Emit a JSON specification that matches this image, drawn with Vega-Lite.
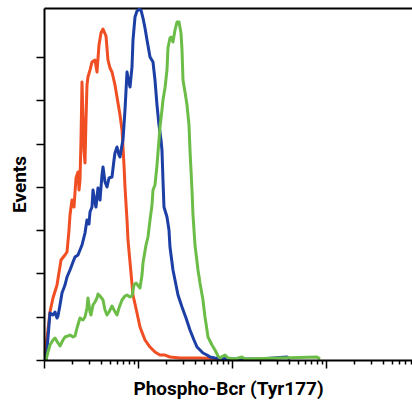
{
  "$schema": "https://vega.github.io/schema/vega-lite/v6.json",
  "autosize": "none",
  "width": 368,
  "height": 352,
  "padding": {"left": 44, "top": 8, "right": 0, "bottom": 49},
  "background": "white",
  "config": {"view": {"stroke": null}},
  "datasets": {
    "hist": [
      {"sample": "red", "intensity": 1.00, "events": 0.46},
      {"sample": "red", "intensity": 1.050, "events": 3.46},
      {"sample": "red", "intensity": 1.103, "events": 6.93},
      {"sample": "red", "intensity": 1.158, "events": 11.09},
      {"sample": "red", "intensity": 1.246, "events": 14.32},
      {"sample": "red", "intensity": 1.375, "events": 17.32},
      {"sample": "red", "intensity": 1.517, "events": 23.09},
      {"sample": "red", "intensity": 1.672, "events": 24.25},
      {"sample": "red", "intensity": 1.757, "events": 24.94},
      {"sample": "red", "intensity": 1.845, "events": 30.02},
      {"sample": "red", "intensity": 1.891, "events": 33.49},
      {"sample": "red", "intensity": 1.985, "events": 36.95},
      {"sample": "red", "intensity": 2.085, "events": 35.33},
      {"sample": "red", "intensity": 2.190, "events": 42.03},
      {"sample": "red", "intensity": 2.300, "events": 43.42},
      {"sample": "red", "intensity": 2.357, "events": 39.26},
      {"sample": "red", "intensity": 2.415, "events": 41.57},
      {"sample": "red", "intensity": 2.475, "events": 50.81},
      {"sample": "red", "intensity": 2.537, "events": 64.20},
      {"sample": "red", "intensity": 2.600, "events": 55.43},
      {"sample": "red", "intensity": 2.664, "events": 48.50},
      {"sample": "red", "intensity": 2.730, "events": 45.50},
      {"sample": "red", "intensity": 2.797, "events": 55.43},
      {"sample": "red", "intensity": 2.866, "events": 63.51},
      {"sample": "red", "intensity": 2.937, "events": 65.36},
      {"sample": "red", "intensity": 3.085, "events": 66.97},
      {"sample": "red", "intensity": 3.240, "events": 68.82},
      {"sample": "red", "intensity": 3.488, "events": 69.28},
      {"sample": "red", "intensity": 3.662, "events": 66.51},
      {"sample": "red", "intensity": 3.846, "events": 72.75},
      {"sample": "red", "intensity": 4.039, "events": 75.52},
      {"sample": "red", "intensity": 4.244, "events": 76.44},
      {"sample": "red", "intensity": 4.567, "events": 74.83},
      {"sample": "red", "intensity": 4.796, "events": 69.28},
      {"sample": "red", "intensity": 5.036, "events": 67.44},
      {"sample": "red", "intensity": 5.288, "events": 66.51},
      {"sample": "red", "intensity": 5.692, "events": 63.51},
      {"sample": "red", "intensity": 6.127, "events": 59.35},
      {"sample": "red", "intensity": 6.436, "events": 56.58},
      {"sample": "red", "intensity": 6.758, "events": 53.12},
      {"sample": "red", "intensity": 7.097, "events": 45.03},
      {"sample": "red", "intensity": 7.272, "events": 39.95},
      {"sample": "red", "intensity": 7.639, "events": 32.33},
      {"sample": "red", "intensity": 7.828, "events": 27.71},
      {"sample": "red", "intensity": 8.222, "events": 22.63},
      {"sample": "red", "intensity": 8.846, "events": 15.01},
      {"sample": "red", "intensity": 9.760, "events": 10.85},
      {"sample": "red", "intensity": 10.50, "events": 7.62},
      {"sample": "red", "intensity": 11.87, "events": 4.62},
      {"sample": "red", "intensity": 13.42, "events": 3.00},
      {"sample": "red", "intensity": 15.16, "events": 1.85},
      {"sample": "red", "intensity": 17.14, "events": 1.15},
      {"sample": "red", "intensity": 19.37, "events": 1.15},
      {"sample": "red", "intensity": 21.89, "events": 0.69},
      {"sample": "red", "intensity": 27.98, "events": 0.46},
      {"sample": "red", "intensity": 45.66, "events": 0.46},
      {"sample": "red", "intensity": 95.20, "events": 0.23},

      {"sample": "blue", "intensity": 1.050, "events": 0.0},
      {"sample": "blue", "intensity": 1.076, "events": 2.31},
      {"sample": "blue", "intensity": 1.130, "events": 8.08},
      {"sample": "blue", "intensity": 1.158, "events": 10.85},
      {"sample": "blue", "intensity": 1.246, "events": 10.39},
      {"sample": "blue", "intensity": 1.309, "events": 11.09},
      {"sample": "blue", "intensity": 1.375, "events": 9.70},
      {"sample": "blue", "intensity": 1.409, "events": 10.16},
      {"sample": "blue", "intensity": 1.480, "events": 12.70},
      {"sample": "blue", "intensity": 1.554, "events": 15.47},
      {"sample": "blue", "intensity": 1.672, "events": 17.32},
      {"sample": "blue", "intensity": 1.757, "events": 19.17},
      {"sample": "blue", "intensity": 1.891, "events": 20.79},
      {"sample": "blue", "intensity": 2.035, "events": 22.63},
      {"sample": "blue", "intensity": 2.137, "events": 23.79},
      {"sample": "blue", "intensity": 2.300, "events": 24.25},
      {"sample": "blue", "intensity": 2.415, "events": 25.40},
      {"sample": "blue", "intensity": 2.537, "events": 26.56},
      {"sample": "blue", "intensity": 2.730, "events": 29.33},
      {"sample": "blue", "intensity": 2.866, "events": 32.33},
      {"sample": "blue", "intensity": 3.010, "events": 31.41},
      {"sample": "blue", "intensity": 3.085, "events": 34.18},
      {"sample": "blue", "intensity": 3.240, "events": 35.33},
      {"sample": "blue", "intensity": 3.321, "events": 39.26},
      {"sample": "blue", "intensity": 3.488, "events": 36.26},
      {"sample": "blue", "intensity": 3.574, "events": 35.33},
      {"sample": "blue", "intensity": 3.752, "events": 39.72},
      {"sample": "blue", "intensity": 3.942, "events": 36.95},
      {"sample": "blue", "intensity": 4.140, "events": 42.73},
      {"sample": "blue", "intensity": 4.244, "events": 44.57},
      {"sample": "blue", "intensity": 4.457, "events": 41.11},
      {"sample": "blue", "intensity": 4.680, "events": 39.95},
      {"sample": "blue", "intensity": 4.914, "events": 42.03},
      {"sample": "blue", "intensity": 5.288, "events": 42.26},
      {"sample": "blue", "intensity": 5.556, "events": 46.19},
      {"sample": "blue", "intensity": 5.692, "events": 47.81},
      {"sample": "blue", "intensity": 5.979, "events": 49.19},
      {"sample": "blue", "intensity": 6.280, "events": 47.34},
      {"sample": "blue", "intensity": 6.436, "events": 46.88},
      {"sample": "blue", "intensity": 6.758, "events": 49.65},
      {"sample": "blue", "intensity": 6.925, "events": 50.81},
      {"sample": "blue", "intensity": 7.272, "events": 57.74},
      {"sample": "blue", "intensity": 7.639, "events": 66.51},
      {"sample": "blue", "intensity": 7.828, "events": 65.13},
      {"sample": "blue", "intensity": 8.222, "events": 63.05},
      {"sample": "blue", "intensity": 8.633, "events": 67.67},
      {"sample": "blue", "intensity": 8.846, "events": 73.90},
      {"sample": "blue", "intensity": 9.292, "events": 79.21},
      {"sample": "blue", "intensity": 9.760, "events": 80.60},
      {"sample": "blue", "intensity": 10.25, "events": 81.0},
      {"sample": "blue", "intensity": 10.77, "events": 80.8},
      {"sample": "blue", "intensity": 11.30, "events": 78.98},
      {"sample": "blue", "intensity": 11.87, "events": 76.67},
      {"sample": "blue", "intensity": 12.47, "events": 73.90},
      {"sample": "blue", "intensity": 13.42, "events": 69.98},
      {"sample": "blue", "intensity": 14.44, "events": 68.82},
      {"sample": "blue", "intensity": 15.16, "events": 64.67},
      {"sample": "blue", "intensity": 15.93, "events": 58.89},
      {"sample": "blue", "intensity": 16.72, "events": 54.27},
      {"sample": "blue", "intensity": 17.57, "events": 50.81},
      {"sample": "blue", "intensity": 17.99, "events": 48.50},
      {"sample": "blue", "intensity": 18.44, "events": 41.57},
      {"sample": "blue", "intensity": 18.90, "events": 35.33},
      {"sample": "blue", "intensity": 20.34, "events": 33.03},
      {"sample": "blue", "intensity": 21.36, "events": 30.02},
      {"sample": "blue", "intensity": 21.89, "events": 26.10},
      {"sample": "blue", "intensity": 23.56, "events": 20.79},
      {"sample": "blue", "intensity": 24.75, "events": 18.48},
      {"sample": "blue", "intensity": 26.64, "events": 15.01},
      {"sample": "blue", "intensity": 29.39, "events": 12.24},
      {"sample": "blue", "intensity": 32.41, "events": 9.70},
      {"sample": "blue", "intensity": 35.73, "events": 6.93},
      {"sample": "blue", "intensity": 39.41, "events": 4.62},
      {"sample": "blue", "intensity": 42.44, "events": 3.00},
      {"sample": "blue", "intensity": 45.66, "events": 2.31},
      {"sample": "blue", "intensity": 49.12, "events": 1.62},
      {"sample": "blue", "intensity": 54.19, "events": 1.15},
      {"sample": "blue", "intensity": 58.32, "events": 0.69},
      {"sample": "blue", "intensity": 65.92, "events": 0.46},
      {"sample": "blue", "intensity": 95.20, "events": 0.23},
      {"sample": "blue", "intensity": 198.5, "events": 0.23},
      {"sample": "blue", "intensity": 384.8, "events": 0.69},
      {"sample": "blue", "intensity": 414.3, "events": 0.23},

      {"sample": "green", "intensity": 1.050, "events": 0.0},
      {"sample": "green", "intensity": 1.103, "events": 1.85},
      {"sample": "green", "intensity": 1.158, "events": 3.46},
      {"sample": "green", "intensity": 1.246, "events": 4.62},
      {"sample": "green", "intensity": 1.309, "events": 5.08},
      {"sample": "green", "intensity": 1.409, "events": 3.93},
      {"sample": "green", "intensity": 1.480, "events": 3.23},
      {"sample": "green", "intensity": 1.593, "events": 4.62},
      {"sample": "green", "intensity": 1.672, "events": 5.31},
      {"sample": "green", "intensity": 1.800, "events": 5.54},
      {"sample": "green", "intensity": 1.891, "events": 5.77},
      {"sample": "green", "intensity": 2.035, "events": 5.31},
      {"sample": "green", "intensity": 2.137, "events": 5.54},
      {"sample": "green", "intensity": 2.244, "events": 7.39},
      {"sample": "green", "intensity": 2.415, "events": 9.70},
      {"sample": "green", "intensity": 2.600, "events": 9.24},
      {"sample": "green", "intensity": 2.730, "events": 9.93},
      {"sample": "green", "intensity": 2.866, "events": 12.01},
      {"sample": "green", "intensity": 2.937, "events": 14.32},
      {"sample": "green", "intensity": 3.085, "events": 11.09},
      {"sample": "green", "intensity": 3.162, "events": 10.39},
      {"sample": "green", "intensity": 3.321, "events": 12.70},
      {"sample": "green", "intensity": 3.488, "events": 13.39},
      {"sample": "green", "intensity": 3.662, "events": 14.32},
      {"sample": "green", "intensity": 3.752, "events": 15.24},
      {"sample": "green", "intensity": 3.942, "events": 14.78},
      {"sample": "green", "intensity": 4.244, "events": 13.86},
      {"sample": "green", "intensity": 4.457, "events": 11.55},
      {"sample": "green", "intensity": 4.680, "events": 10.39},
      {"sample": "green", "intensity": 4.914, "events": 11.09},
      {"sample": "green", "intensity": 5.288, "events": 12.47},
      {"sample": "green", "intensity": 5.556, "events": 11.55},
      {"sample": "green", "intensity": 5.979, "events": 10.39},
      {"sample": "green", "intensity": 6.280, "events": 12.01},
      {"sample": "green", "intensity": 6.758, "events": 13.86},
      {"sample": "green", "intensity": 7.272, "events": 14.78},
      {"sample": "green", "intensity": 7.639, "events": 15.01},
      {"sample": "green", "intensity": 8.222, "events": 14.55},
      {"sample": "green", "intensity": 8.633, "events": 14.78},
      {"sample": "green", "intensity": 9.066, "events": 17.32},
      {"sample": "green", "intensity": 9.521, "events": 17.78},
      {"sample": "green", "intensity": 10.50, "events": 16.63},
      {"sample": "green", "intensity": 11.03, "events": 19.63},
      {"sample": "green", "intensity": 11.30, "events": 22.40},
      {"sample": "green", "intensity": 12.17, "events": 26.56},
      {"sample": "green", "intensity": 12.77, "events": 28.41},
      {"sample": "green", "intensity": 13.42, "events": 32.33},
      {"sample": "green", "intensity": 14.09, "events": 35.80},
      {"sample": "green", "intensity": 14.44, "events": 39.26},
      {"sample": "green", "intensity": 15.16, "events": 40.42},
      {"sample": "green", "intensity": 15.93, "events": 45.03},
      {"sample": "green", "intensity": 16.72, "events": 50.81},
      {"sample": "green", "intensity": 17.14, "events": 53.81},
      {"sample": "green", "intensity": 17.99, "events": 57.74},
      {"sample": "green", "intensity": 18.44, "events": 60.05},
      {"sample": "green", "intensity": 19.37, "events": 62.82},
      {"sample": "green", "intensity": 20.34, "events": 66.97},
      {"sample": "green", "intensity": 20.84, "events": 72.06},
      {"sample": "green", "intensity": 21.89, "events": 74.36},
      {"sample": "green", "intensity": 22.43, "events": 74.60},
      {"sample": "green", "intensity": 23.56, "events": 73.44},
      {"sample": "green", "intensity": 24.75, "events": 76.21},
      {"sample": "green", "intensity": 26.00, "events": 78.06},
      {"sample": "green", "intensity": 27.31, "events": 78.06},
      {"sample": "green", "intensity": 28.68, "events": 75.52},
      {"sample": "green", "intensity": 29.39, "events": 71.59},
      {"sample": "green", "intensity": 30.11, "events": 64.67},
      {"sample": "green", "intensity": 31.62, "events": 61.89},
      {"sample": "green", "intensity": 33.22, "events": 58.89},
      {"sample": "green", "intensity": 34.88, "events": 54.27},
      {"sample": "green", "intensity": 35.73, "events": 48.50},
      {"sample": "green", "intensity": 37.53, "events": 39.26},
      {"sample": "green", "intensity": 38.46, "events": 33.49},
      {"sample": "green", "intensity": 40.40, "events": 26.56},
      {"sample": "green", "intensity": 43.49, "events": 20.79},
      {"sample": "green", "intensity": 45.66, "events": 17.78},
      {"sample": "green", "intensity": 49.12, "events": 13.86},
      {"sample": "green", "intensity": 51.60, "events": 9.93},
      {"sample": "green", "intensity": 54.19, "events": 6.93},
      {"sample": "green", "intensity": 55.52, "events": 5.31},
      {"sample": "green", "intensity": 61.26, "events": 3.46},
      {"sample": "green", "intensity": 65.92, "events": 2.31},
      {"sample": "green", "intensity": 71.00, "events": 0.92},
      {"sample": "green", "intensity": 74.53, "events": 0.46},
      {"sample": "green", "intensity": 80.27, "events": 0.92},
      {"sample": "green", "intensity": 84.27, "events": 1.15},
      {"sample": "green", "intensity": 90.65, "events": 0.46},
      {"sample": "green", "intensity": 107.6, "events": 0.23},
      {"sample": "green", "intensity": 127.7, "events": 0.69},
      {"sample": "green", "intensity": 137.5, "events": 0.23},
      {"sample": "green", "intensity": 801.9, "events": 0.69},
      {"sample": "green", "intensity": 863.5, "events": 0.23}
    ]
  },
  "data": {"name": "hist"},
  "layer": [
    {
      "mark": {"type": "line", "strokeWidth": 3, "strokeJoin": "round", "clip": true, "interpolate": "linear"},
      "encoding": {
        "x": {
          "field": "intensity", "type": "quantitative",
          "scale": {"type": "log", "domain": [1, 8222], "nice": false},
          "axis": {
            "orient": "bottom", "zindex": 1,
            "values": [1,2,3,4,5,6,7,8,9,10,20,30,40,50,60,70,80,90,100,200,300,400,500,600,700,800,900,1000,2000,3000,4000,5000,6000,7000,8000],
            "labels": false, "grid": false,
            "domainColor": "#000000", "domainWidth": 2,
            "tickColor": "#000000", "tickWidth": 1.5,
            "tickSize": {"condition": {"test": "abs(log(datum.value)/LN10 - round(log(datum.value)/LN10)) < 0.000001", "value": 8}, "value": 4},
            "title": "Phospho-Bcr (Tyr177)",
            "titleFont": "Liberation Sans Narrow, Roboto, sans-serif",
            "titleFontWeight": "bold", "titleFontSize": 19, "titleColor": "#000000",
            "titlePadding": 11
          }
        },
        "y": {
          "field": "events", "type": "quantitative",
          "scale": {"domain": [0, 81.3], "nice": false, "zero": true},
          "axis": {
            "values": [0,10,20,30,40,50,60,70], "zindex": 1,
            "labels": false, "grid": false,
            "domainColor": "#000000", "domainWidth": 2,
            "tickColor": "#000000", "tickWidth": 1.5, "tickSize": 8,
            "title": "Events",
            "titleFont": "Liberation Sans Narrow, Roboto, sans-serif",
            "titleFontWeight": "bold", "titleFontSize": 19, "titleColor": "#000000",
            "titlePadding": 6
          }
        },
        "color": {
          "field": "sample", "type": "nominal",
          "scale": {"domain": ["red", "blue", "green"], "range": ["#f04e23", "#1c3fa6", "#6cbd47"]},
          "legend": null
        }
      }
    },
    {
      "mark": {"type": "line", "opacity": 0},
      "encoding": {
        "x": {
          "field": "intensity", "type": "quantitative",
          "axis": {"orient": "top", "labels": false, "ticks": false, "grid": false, "title": null, "domainColor": "#000000", "domainWidth": 2}
        },
        "y": {"field": "events", "type": "quantitative"},
        "detail": {"field": "sample"}
      }
    }
  ],
  "resolve": {"axis": {"x": "independent"}}
}
